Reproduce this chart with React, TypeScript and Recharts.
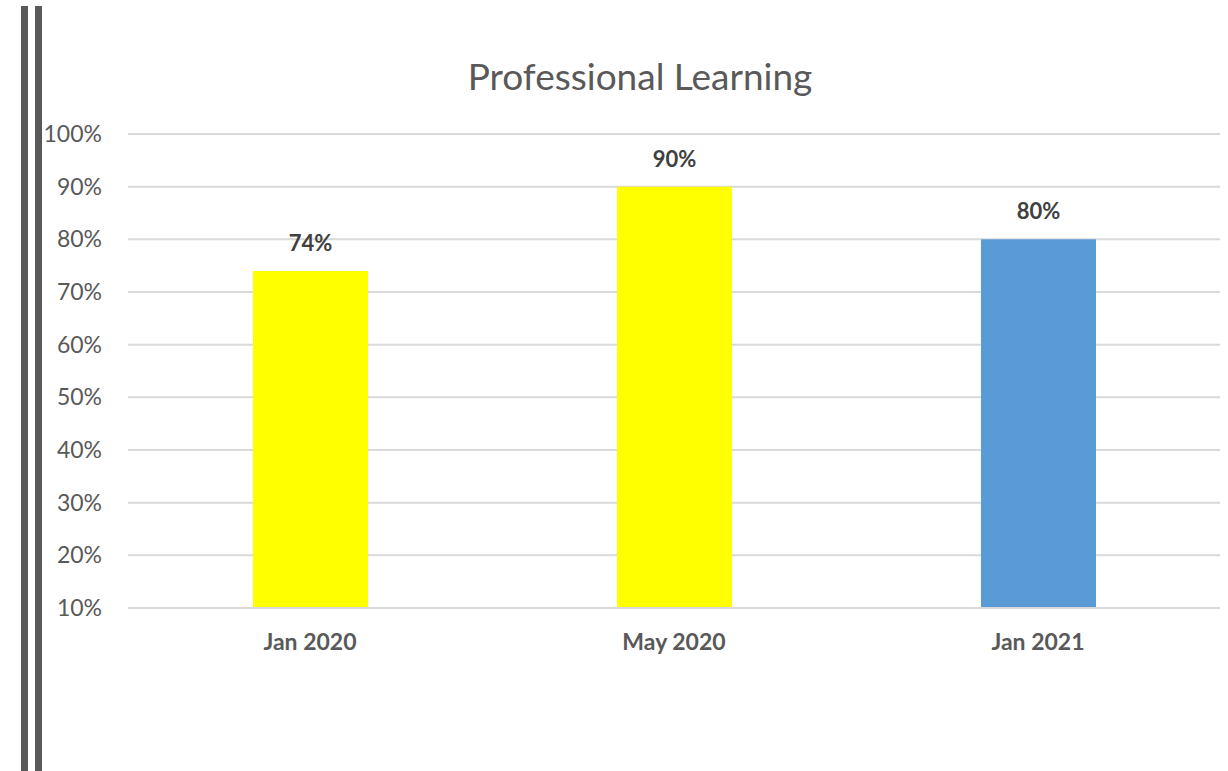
import React from "react";
import { BarChart, Bar, XAxis, YAxis, CartesianGrid, Cell, LabelList } from "recharts";

const categories = ["Jan 2020", "May 2020", "Jan 2021"];
const values = [74, 90, 80];
const barColors = ["#FFFF00", "#FFFF00", "#5B9BD5"];
const yTicks = [10, 20, 30, 40, 50, 60, 70, 80, 90, 100];
const title = "Professional Learning";

const data = categories.map((c, i) => ({ name: c, value: values[i] }));

const FONT = "Lato, 'Open Sans', sans-serif";

export default function App() {
  return (
    <div style={{ position: "absolute", left: 0, top: 0, width: 1228, height: 771, background: "#fff", fontFamily: FONT }}>
      <div style={{ position: "absolute", left: 21, top: 6, width: 7, height: 765, background: "#595959" }} />
      <div style={{ position: "absolute", left: 35, top: 6, width: 7, height: 765, background: "#595959" }} />
      <div
        style={{
          position: "absolute",
          left: 0,
          width: 1228,
          top: 54,
          textAlign: "center",
          paddingLeft: 52,
          boxSizing: "border-box",
          fontSize: 37,
          color: "#595959",
          lineHeight: "44px",
        }}
      >
        {title}
      </div>
      <div style={{ position: "absolute", left: 0, top: 0 }}>
        <BarChart width={1228} height={771} data={data} margin={{ top: 134, right: 8, bottom: 133, left: 0 }}>
          <CartesianGrid vertical={false} stroke="#d9d9d9" strokeWidth={2} />
          <XAxis
            dataKey="name"
            axisLine={{ stroke: "#d9d9d9", strokeWidth: 2 }}
            tickLine={false}
            tickSize={0}
            tickMargin={26}
            height={30}
            tick={{ fill: "#595959", fontSize: 23, fontWeight: 700, fontFamily: FONT }}
          />
          <YAxis
            width={128}
            domain={[10, 100]}
            ticks={yTicks}
            tickFormatter={(v: number) => `${v}%`}
            axisLine={false}
            tickLine={false}
            tickSize={0}
            tickMargin={26}
            tick={{ fill: "#595959", fontSize: 23, fontFamily: FONT }}
          />
          <Bar dataKey="value" barSize={115} isAnimationActive={false}>
            {data.map((d, i) => (
              <Cell key={d.name} fill={barColors[i]} />
            ))}
            <LabelList
              dataKey="value"
              position="top"
              offset={20}
              formatter={(v: number) => `${v}%`}
              style={{ fill: "#404040", fontSize: 22, fontWeight: 700, fontFamily: FONT }}
            />
          </Bar>
        </BarChart>
      </div>
    </div>
  );
}
